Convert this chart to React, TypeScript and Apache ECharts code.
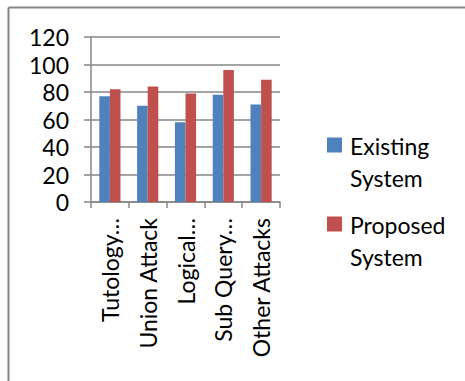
import React, { useEffect, useRef } from "react";
import * as echarts from "echarts";

const categories = ["Tutology…", "Union Attack", "Logical…", "Sub Query…", "Other Attacks"];
const existingSystem = [77, 70, 58, 78, 71];
const proposedSystem = [82, 84, 79, 96, 89];
const seriesNames = ["Existing\nSystem", "Proposed\nSystem"];
const yTicks = { min: 0, max: 120, interval: 20 };

const FONT = "Lato, 'Open Sans', sans-serif";
const GRAY = "#868686";

export default function App() {
  const ref = useRef<HTMLDivElement>(null);
  useEffect(() => {
    if (!ref.current) return;
    const chart = echarts.init(ref.current, null, { renderer: "svg" });
    // square near the top of a tall, otherwise empty icon box so it lines up with the first text line
    const legendIcon = "path://M0,0H0.05V0.05H0Z M0,7.5H15V22.5H0Z M0,63.95H0.05V64H0Z";
    chart.setOption({
      animation: false,
      backgroundColor: "#ffffff",
      textStyle: { fontFamily: FONT },
      grid: { left: 91, right: 185, top: 37, bottom: 179 },
      legend: {
        orient: "vertical",
        left: 322,
        top: 125,
        itemWidth: 15,
        itemHeight: 64,
        itemGap: 15,
        icon: legendIcon,
        textStyle: { fontFamily: FONT, fontSize: 23, color: "#000", lineHeight: 32, padding: [0, 0, 0, 3] },
        data: seriesNames,
      },
      xAxis: {
        type: "category",
        data: categories,
        axisLine: { lineStyle: { color: GRAY, width: 1.5 } },
        axisTick: { show: true, length: 6, lineStyle: { color: GRAY, width: 1.5 } },
        axisLabel: {
          rotate: 90,
          interval: 0,
          margin: 16,
          fontFamily: FONT,
          fontSize: 23,
          color: "#000",
        },
      },
      yAxis: {
        type: "value",
        min: yTicks.min,
        max: yTicks.max,
        interval: yTicks.interval,
        axisLine: { show: true, lineStyle: { color: GRAY, width: 1.5 } },
        axisTick: { show: true, length: 7, lineStyle: { color: GRAY, width: 1.5 } },
        splitLine: { lineStyle: { color: GRAY, width: 1.5 } },
        axisLabel: { margin: 22, fontFamily: FONT, fontSize: 23, color: "#000" },
      },
      series: [
        {
          name: seriesNames[0],
          type: "bar",
          data: existingSystem,
          itemStyle: { color: "#4F81BD" },
          barGap: "0%",
          barCategoryGap: "44%",
        },
        {
          name: seriesNames[1],
          type: "bar",
          data: proposedSystem,
          itemStyle: { color: "#C0504D" },
          barGap: "0%",
          barCategoryGap: "44%",
        },
      ],
      graphic: [
        { type: "line", shape: { x1: 8.5, y1: 7.5, x2: 465, y2: 7.5 }, style: { stroke: GRAY, lineWidth: 2 } },
        { type: "line", shape: { x1: 8.5, y1: 7.5, x2: 8.5, y2: 381 }, style: { stroke: GRAY, lineWidth: 2 } },
      ],
    });
    return () => chart.dispose();
  }, []);
  return (
    <div
      ref={ref}
      style={{ position: "fixed", left: 0, top: 0, width: 465, height: 381 }}
    />
  );
}
